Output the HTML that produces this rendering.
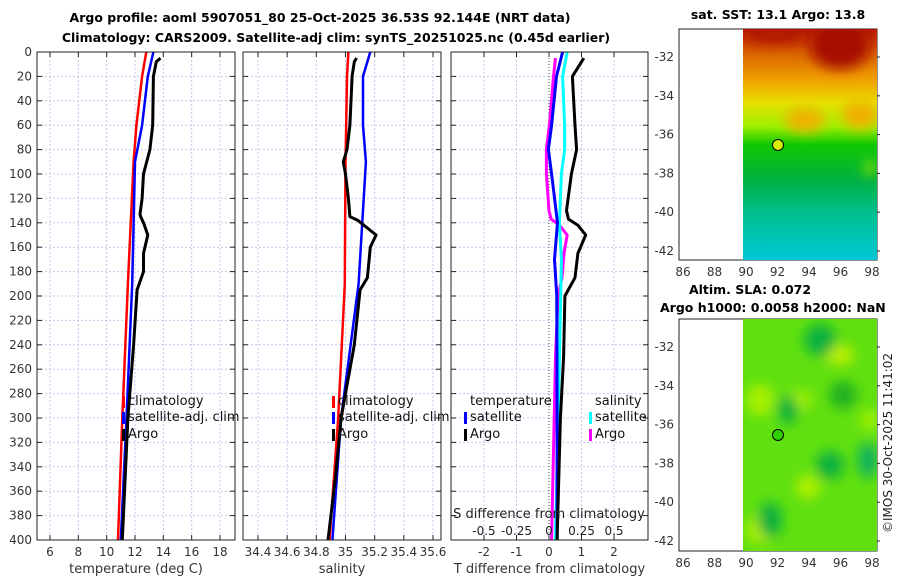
<!DOCTYPE html>
<html><head><meta charset="utf-8"><style>
body{margin:0;background:#fff;}
svg text{font-family:"DejaVu Sans","Liberation Sans",sans-serif;}
</style></head><body>
<svg id="c" width="900" height="580" xmlns="http://www.w3.org/2000/svg">
<defs>
<filter id="bl" x="-50%" y="-50%" width="200%" height="200%"><feGaussianBlur stdDeviation="6"/></filter>
<clipPath id="m1c"><rect x="743" y="29" width="134" height="231"/></clipPath>
<clipPath id="m2c"><rect x="743" y="319" width="134" height="232"/></clipPath>
<linearGradient id="sstg" x1="0" y1="0" x2="0" y2="1">
<stop offset="0" stop-color="#b81800"/><stop offset="0.1" stop-color="#d86000"/><stop offset="0.22" stop-color="#f0a000"/>
<stop offset="0.32" stop-color="#e8e000"/><stop offset="0.42" stop-color="#a0f000"/><stop offset="0.5" stop-color="#10c800"/>
<stop offset="0.65" stop-color="#00b040"/><stop offset="0.8" stop-color="#00c090"/><stop offset="1" stop-color="#00c8d8"/></linearGradient>
</defs>
<text x="320" y="22" text-anchor="middle" font-size="12.5" font-weight="bold">Argo profile: aoml 5907051_80 25-Oct-2025 36.53S 92.144E (NRT data)</text>
<text x="336" y="42" text-anchor="middle" font-size="12.5" font-weight="bold">Climatology: CARS2009. Satellite-adj clim: synTS_20251025.nc (0.45d earlier)</text>
<g id="g"></g>
<g>
<rect x="679" y="29" width="198" height="231" fill="#fff" stroke="#222"/>
<g clip-path="url(#m1c)">
<rect x="743" y="29" width="134" height="231" fill="url(#sstg)"/>
<g filter="url(#bl)">
<ellipse cx="840" cy="45" rx="30" ry="24" fill="#a81000"/>
<ellipse cx="775" cy="35" rx="30" ry="8" fill="#b01800"/>
<ellipse cx="805" cy="120" rx="20" ry="12" fill="#f0b000"/>
<ellipse cx="860" cy="115" rx="18" ry="14" fill="#f0b000"/>
<ellipse cx="870" cy="168" rx="6" ry="8" fill="#80e000"/>
</g></g>
<text x="778" y="19" text-anchor="middle" font-size="12.5" font-weight="bold">sat. SST: 13.1 Argo: 13.8</text>
<circle cx="778" cy="145" r="5.5" fill="#d8f000" stroke="#000"/>
</g>
<g>
<rect x="679" y="319" width="198" height="232" fill="#fff" stroke="#222"/>
<g clip-path="url(#m2c)">
<rect x="743" y="319" width="134" height="232" fill="#60e010"/>
<g filter="url(#bl)">
<ellipse cx="760" cy="400" rx="14" ry="16" fill="#a8f000"/>
<ellipse cx="800" cy="400" rx="12" ry="10" fill="#a0f000"/>
<ellipse cx="840" cy="355" rx="14" ry="10" fill="#c0f000"/>
<ellipse cx="808" cy="487" rx="12" ry="12" fill="#b0f000"/>
<ellipse cx="870" cy="420" rx="10" ry="10" fill="#a0f000"/>
<ellipse cx="760" cy="530" rx="14" ry="14" fill="#b0f000"/>
<ellipse cx="820" cy="340" rx="16" ry="16" fill="#10b040"/>
<ellipse cx="788" cy="410" rx="10" ry="14" fill="#10b040"/>
<ellipse cx="843" cy="395" rx="14" ry="14" fill="#20b020"/>
<ellipse cx="830" cy="465" rx="14" ry="14" fill="#10b040"/>
<ellipse cx="868" cy="460" rx="10" ry="18" fill="#10b060"/>
<ellipse cx="770" cy="520" rx="12" ry="18" fill="#10b040"/>
</g></g>
<text x="750" y="294" text-anchor="middle" font-size="12.5" font-weight="bold">Altim. SLA: 0.072</text>
<text x="660" y="312" font-size="12.5" font-weight="bold">Argo h1000: 0.0058 h2000: NaN</text>
<circle cx="778" cy="435" r="5.5" fill="#30d000" stroke="#000"/>
</g>
<text transform="translate(892,443) rotate(-90)" text-anchor="middle" font-size="12" fill="#222">©IMOS 30-Oct-2025 11:41:02</text>
</svg>
<script>
const depthT=[0,20,60,90,190,300,400];
const climT=[12.8,12.5,12.1,11.9,11.5,11.1,10.8];
const satT=[13.3,12.9,12.5,12.0,11.8,11.4,11.0];
const argoTdep=[5,8,20,60,80,100,120,133,135,140,150,165,180,195,240,300,350,400];
const argoT=[13.8,13.5,13.3,13.25,13.05,12.6,12.5,12.35,12.4,12.6,12.9,12.6,12.6,12.15,11.9,11.5,11.3,11.1];
const climS=[35.02,35.01,35.005,35.0,34.995,34.95,34.89];
const satS=[35.17,35.12,35.12,35.14,35.09,34.97,34.91];
const argoS=[35.076,35.06,35.045,35.03,35.01,34.985,35.0,35.02,35.03,35.085,35.21,35.17,35.15,35.1,35.06,34.97,34.93,34.88];
const argoSdep=[5,8,20,60,80,90,100,120,135,138,150,160,185,195,240,300,350,400];
const diffDep=[0,20,60,80,100,140,170,200,300,400];
const dTsat=[0.42,0.23,0.08,-0.02,0.08,0.26,0.17,0.24,0.25,0.25];
const dSsat=[0.14,0.105,0.12,0.12,0.095,0.08,0.095,0.09,0.07,0.05];
const dDepArgo=[5,20,60,80,100,130,137,142,150,165,185,200,250,300,400];
const dTargo=[1.07,0.72,0.8,0.85,0.69,0.54,0.6,0.89,1.13,0.89,0.8,0.49,0.45,0.35,0.25];
const dSargo=[0.05,0.035,0.003,-0.02,-0.02,0.0,0.016,0.08,0.14,0.115,0.1,0.07,0.05,0.04,0.02];
const yTicks=[0,20,40,60,80,100,120,140,160,180,200,220,240,260,280,300,320,340,360,380,400];
const tTicks=[6,8,10,12,14,16,18];
const sTicks=[34.4,34.6,34.8,35,35.2,35.4,35.6];
const dTicks=[-2,-1,0,1,2];
const dsTicks=[-0.5,-0.25,0,0.25,0.5];
const dsLabels=["-0.5","-0.25","0","0.25","0.5"];

const NS="http://www.w3.org/2000/svg";
const G=document.getElementById('g');
function mk(t,a,p){const e=document.createElementNS(NS,t);for(const k in a)e.setAttribute(k,a[k]);(p||G).appendChild(e);return e;}
const Y0=52,Y1=540;
const y=d=>Y0+(d/400)*(Y1-Y0);
function lin(d0,d1,r0,r1){return v=>r0+(v-d0)/(d1-d0)*(r1-r0);}
const panels=[
 {x0:37,x1:235,sx:lin(6,18,50,220),ticks:tTicks,lab:tTicks.map(String),name:'temperature',xl:'temperature (deg C)'},
 {x0:243,x1:441,sx:lin(34.4,35.6,258,433),ticks:sTicks,lab:sTicks.map(String),name:'salinity',xl:'salinity'},
 {x0:451,x1:648,sx:lin(-2,2,484,614),ticks:dTicks,lab:dTicks.map(String),name:'difference',xl:'T difference from climatology'}
];
const pg=[];
panels.forEach((p,i)=>{
 const g=mk('g',{});
 
 
 pg.push(g);
 yTicks.forEach(t=>{
  const l=mk('line',{x1:p.x0,x2:p.x1,y1:y(t),y2:y(t),stroke:'#c0c8ec','stroke-width':1,'stroke-dasharray':'2,2'},g);
  
  
  mk('line',{x1:p.x0,x2:p.x0+5,y1:y(t),y2:y(t),stroke:'#222'},g);
  mk('line',{x1:p.x1-5,x2:p.x1,y1:y(t),y2:y(t),stroke:'#222'},g);
  if(i==0){const tx=mk('text',{x:32,y:y(t)+4,'text-anchor':'end','font-size':12,fill:'#333'},g);tx.textContent=t;
   }
 });
 p.ticks.forEach((t,j)=>{
  const X=p.sx(t);
  if(!(i==2&&t==0)){const l=mk('line',{x1:X,x2:X,y1:Y0,y2:Y1,stroke:'#c0c8ec','stroke-dasharray':'2,2'},g);
  }
  mk('line',{x1:X,x2:X,y1:Y1-5,y2:Y1,stroke:'#222'},g);
  mk('line',{x1:X,x2:X,y1:Y0,y2:Y0+5,stroke:'#222'},g);
  const tx=mk('text',{x:X,y:556,'text-anchor':'middle','font-size':12,fill:'#333'},g);tx.textContent=p.lab[j];
  
 });
 const xl=mk('text',{x:(p.x0+p.x1)/2,y:573,'text-anchor':'middle','font-size':13,fill:'#333'},g);xl.textContent=p.xl;
 
});
function line(g,xs,ds,sx,col,w,name){
 const pts=xs.map((v,k)=>sx(v).toFixed(1)+','+y(ds[k]).toFixed(1)).join(' ');
 const e=mk('polyline',{points:pts,fill:'none',stroke:col,'stroke-width':w,'stroke-linejoin':'round'},g);
 
 
}
const P=panels;
line(pg[0],climT,depthT,P[0].sx,'#f00',2.5,'climatology-temperature-line');
line(pg[0],satT,depthT,P[0].sx,'#00f',2.5,'satellite-temperature-line');
line(pg[0],argoT,argoTdep,P[0].sx,'#000',3,'argo-temperature-line');
line(pg[1],climS,depthT,P[1].sx,'#f00',2.5,'climatology-salinity-line');
line(pg[1],satS,depthT,P[1].sx,'#00f',2.5,'satellite-salinity-line');
line(pg[1],argoS,argoSdep,P[1].sx,'#000',3,'argo-salinity-line');
const sxS=v=>P[2].sx(v*4);
mk('line',{x1:P[2].sx(0),x2:P[2].sx(0),y1:Y0,y2:Y1,stroke:'#445','stroke-dasharray':'1,2'},pg[2]);
line(pg[2],dSargo,dDepArgo,sxS,'#f0f',3,'argo-salinity-diff-line');
line(pg[2],dSsat,diffDep,sxS,'#0ff',3,'satellite-salinity-diff-line');
line(pg[2],dTsat,diffDep,P[2].sx,'#00f',3,'satellite-temperature-diff-line');
line(pg[2],dTargo,dDepArgo,P[2].sx,'#000',3,'argo-temperature-diff-line');
const sl=mk('text',{x:549,y:518,'text-anchor':'middle','font-size':13,fill:'#222'},pg[2]);sl.textContent='S difference from climatology';

dsTicks.forEach((t,j)=>{const tx=mk('text',{x:sxS(t),y:535,'text-anchor':'middle','font-size':12,fill:'#222'},pg[2]);tx.textContent=dsLabels[j];
 });
panels.forEach((p,i)=>{const r=mk('rect',{x:p.x0,y:Y0,width:p.x1-p.x0,height:Y1-Y0,fill:'none',stroke:'#222'},pg[i]);
 });
function leg(g,x,yy,col,txt){
 if(col){mk('rect',{x:x-6,y:yy-9,width:3,height:12,fill:col},g);}
 const t=mk('text',{x:x,y:yy,'font-size':13,fill:'#111'},g);t.textContent=txt;
 
 
}
leg(pg[0],128,405,'#f00','climatology');leg(pg[0],128,421,'#00f','satellite-adj. clim');leg(pg[0],128,438,'#000','Argo');
leg(pg[1],338,405,'#f00','climatology');leg(pg[1],338,421,'#00f','satellite-adj. clim');leg(pg[1],338,438,'#000','Argo');
leg(pg[2],470,405,null,'temperature');leg(pg[2],470,421,'#00f','satellite');leg(pg[2],470,438,'#000','Argo');
leg(pg[2],595,405,null,'salinity');leg(pg[2],595,421,'#0ff','satellite');leg(pg[2],595,438,'#f0f','Argo');
const mx=lin(86,98,683,872);
function mapAxes(top,bot,y32,y42){
 const my=lin(-32,-42,y32,y42);
 [86,88,90,92,94,96,98].forEach(v=>{const t=mk('text',{x:mx(v),y:bot+16,'text-anchor':'middle','font-size':12,fill:'#333'});t.textContent=v;
  
  mk('line',{x1:mx(v),x2:mx(v),y1:bot-3,y2:bot,stroke:'#222'});mk('line',{x1:mx(v),x2:mx(v),y1:top,y2:top+3,stroke:'#222'});});
 [-32,-34,-36,-38,-40,-42].forEach(v=>{const t=mk('text',{x:674,y:my(v)+4,'text-anchor':'end','font-size':12,fill:'#333'});t.textContent=v;
  
  mk('line',{x1:874,x2:880,y1:my(v),y2:my(v),stroke:'#222'});});
}
mapAxes(29,260,57,251);
mapAxes(319,551,347,541);
</script>
</body></html>
